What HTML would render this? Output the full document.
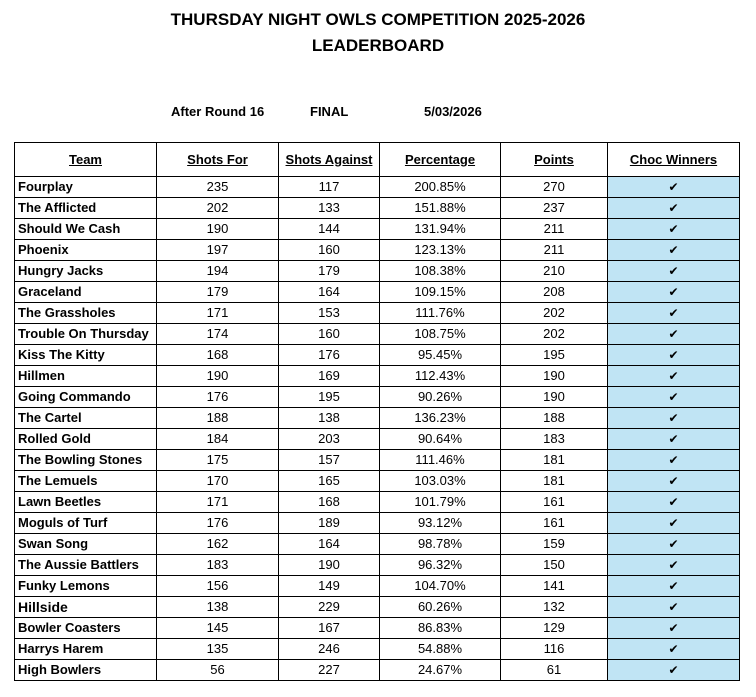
<!DOCTYPE html>
<html><head><meta charset="utf-8"><style>
body{margin:0;background:#fff;width:756px;height:697px;position:relative;font-family:"Liberation Sans",Arial,sans-serif;color:#000;overflow:hidden}
.t{position:absolute;left:0;width:756px;text-align:center;font-weight:bold;font-size:17px}
.s{position:absolute;top:104px;font-weight:bold;font-size:13px}
table{position:absolute;left:14px;top:142px;border-collapse:collapse;table-layout:fixed}
td{border:1px solid #000;height:20px;padding:0;font-size:13px;text-align:center;line-height:20px}
tr.h td{height:33px;font-weight:bold;text-decoration:underline;font-size:13px}
td.n{text-align:left;padding-left:3px;font-weight:bold;font-size:13px}
td.c{background:#c0e4f4;font-size:12px}
</style></head><body>
<div class="t" style="top:10px">THURSDAY NIGHT OWLS COMPETITION 2025-2026</div>
<div class="t" style="top:36px">LEADERBOARD</div>
<div class="s" style="left:171px">After Round 16</div>
<div class="s" style="left:310px">FINAL</div>
<div class="s" style="left:424px">5/03/2026</div>
<table>
<colgroup><col style="width:142px"><col style="width:122px"><col style="width:101px"><col style="width:121px"><col style="width:107px"><col style="width:132px"></colgroup>
<tr class="h"><td>Team</td><td>Shots For</td><td>Shots Against</td><td>Percentage</td><td>Points</td><td>Choc Winners</td></tr>
<tr><td class="n">Fourplay</td><td>235</td><td>117</td><td>200.85%</td><td>270</td><td class="c">✔</td></tr>
<tr><td class="n">The Afflicted</td><td>202</td><td>133</td><td>151.88%</td><td>237</td><td class="c">✔</td></tr>
<tr><td class="n">Should We Cash</td><td>190</td><td>144</td><td>131.94%</td><td>211</td><td class="c">✔</td></tr>
<tr><td class="n">Phoenix</td><td>197</td><td>160</td><td>123.13%</td><td>211</td><td class="c">✔</td></tr>
<tr><td class="n">Hungry Jacks</td><td>194</td><td>179</td><td>108.38%</td><td>210</td><td class="c">✔</td></tr>
<tr><td class="n">Graceland</td><td>179</td><td>164</td><td>109.15%</td><td>208</td><td class="c">✔</td></tr>
<tr><td class="n">The Grassholes</td><td>171</td><td>153</td><td>111.76%</td><td>202</td><td class="c">✔</td></tr>
<tr><td class="n">Trouble On Thursday</td><td>174</td><td>160</td><td>108.75%</td><td>202</td><td class="c">✔</td></tr>
<tr><td class="n">Kiss The Kitty</td><td>168</td><td>176</td><td>95.45%</td><td>195</td><td class="c">✔</td></tr>
<tr><td class="n">Hillmen</td><td>190</td><td>169</td><td>112.43%</td><td>190</td><td class="c">✔</td></tr>
<tr><td class="n">Going Commando</td><td>176</td><td>195</td><td>90.26%</td><td>190</td><td class="c">✔</td></tr>
<tr><td class="n">The Cartel</td><td>188</td><td>138</td><td>136.23%</td><td>188</td><td class="c">✔</td></tr>
<tr><td class="n">Rolled Gold</td><td>184</td><td>203</td><td>90.64%</td><td>183</td><td class="c">✔</td></tr>
<tr><td class="n">The Bowling Stones</td><td>175</td><td>157</td><td>111.46%</td><td>181</td><td class="c">✔</td></tr>
<tr><td class="n">The Lemuels</td><td>170</td><td>165</td><td>103.03%</td><td>181</td><td class="c">✔</td></tr>
<tr><td class="n">Lawn Beetles</td><td>171</td><td>168</td><td>101.79%</td><td>161</td><td class="c">✔</td></tr>
<tr><td class="n">Moguls of Turf</td><td>176</td><td>189</td><td>93.12%</td><td>161</td><td class="c">✔</td></tr>
<tr><td class="n">Swan Song</td><td>162</td><td>164</td><td>98.78%</td><td>159</td><td class="c">✔</td></tr>
<tr><td class="n">The Aussie Battlers</td><td>183</td><td>190</td><td>96.32%</td><td>150</td><td class="c">✔</td></tr>
<tr><td class="n">Funky Lemons</td><td>156</td><td>149</td><td>104.70%</td><td>141</td><td class="c">✔</td></tr>
<tr><td class="n" style="font-size:14px">Hillside</td><td>138</td><td>229</td><td>60.26%</td><td>132</td><td class="c">✔</td></tr>
<tr><td class="n">Bowler Coasters</td><td>145</td><td>167</td><td>86.83%</td><td>129</td><td class="c">✔</td></tr>
<tr><td class="n">Harrys Harem</td><td>135</td><td>246</td><td>54.88%</td><td>116</td><td class="c">✔</td></tr>
<tr><td class="n">High Bowlers</td><td>56</td><td>227</td><td>24.67%</td><td>61</td><td class="c">✔</td></tr>
</table>
</body></html>
